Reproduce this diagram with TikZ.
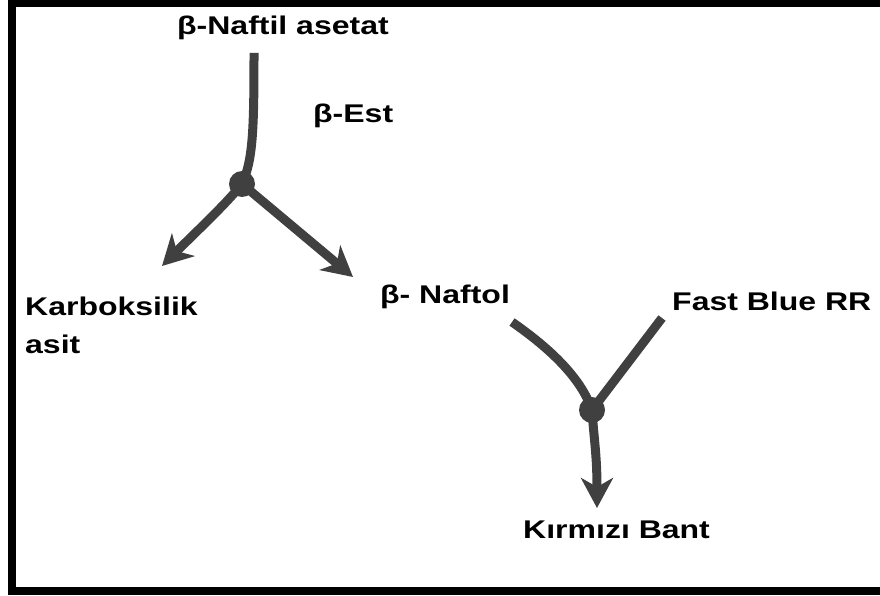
\documentclass[tikz,border=0pt]{standalone}
\usepackage{fontspec}
\usepackage{graphicx}
\setmainfont{Liberation Sans}
\usetikzlibrary{arrows.meta}
\definecolor{ink}{HTML}{404040}
\newcommand\wide[1]{\scalebox{1.25}[1]{#1}}
\tikzset{
  lbl/.style={inner sep=0pt, anchor=base west, align=left,
    font=\bfseries\fontsize{25.6}{38}\selectfont},
  flow/.style={draw=ink, line width=9pt},
  arr/.style={flow, -{Stealth[length=30pt, width=32pt, inset=9pt]}},
  joint/.style={circle, fill=ink, minimum size=26pt, inner sep=0pt},
}
\begin{document}
\begin{tikzpicture}[x=1pt, y=-1pt]
  \useasboundingbox (0,0) rectangle (880,596);
  \clip (0,0) rectangle (880,596);
  % outer frame (open to the right)
  \draw[line width=8pt] (12,3.5) rectangle (900,590.5);

  % labels
  \node[lbl] (ester)  at (177,35)  {\wide{β-Naftil asetat}};
  \node[lbl] (enzyme) at (313,123) {\wide{β-Est}};
  \node[lbl] (acid)   at (25,353)  {\wide{Karboksilik}\\\wide{asit}};
  \node[lbl] (naftol) at (380,303) {\wide{β- Naftol}};
  \node[lbl] (dye)    at (672,310) {\wide{Fast Blue RR}};
  \node[lbl] (band)   at (523,538) {\wide{Kırmızı Bant}};

  % junction points
  \node[joint] (j1) at (242,184) {};
  \node[joint] (j2) at (592,410) {};

  % free ends of the reaction lines
  \coordinate (s1) at (254,53);
  \coordinate (s2) at (512,322);
  \coordinate (s3) at (662,318);
  \coordinate (tipAcid)   at (162,266);
  \coordinate (tipNaftol) at (353,277);
  \coordinate (tipBand)   at (597,508);

  % hydrolysis of the ester
  \draw[flow] (s1) .. controls (254,130) and (253,160) .. (j1.center);
  \draw[arr] (j1.center) .. controls (225,205) and (198,230) .. (tipAcid);
  \draw[arr] (j1.center) -- (tipNaftol);

  % coupling with the diazonium salt
  \draw[flow] (s2) .. controls (545,345) and (580,375) .. (j2.center);
  \draw[flow] (s3) -- (j2.center);
  \draw[arr] (j2.center) .. controls (594,440) and (597,455) .. (tipBand);
\end{tikzpicture}
\end{document}
